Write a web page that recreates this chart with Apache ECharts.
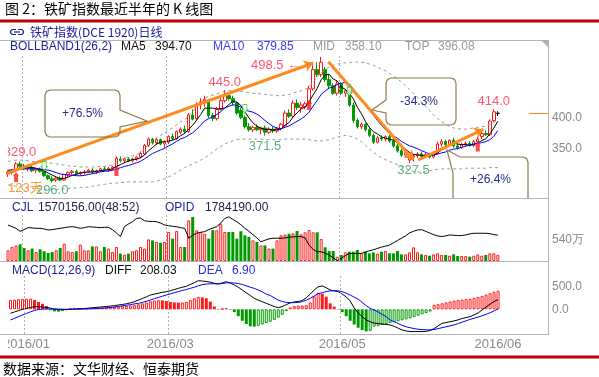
<!DOCTYPE html>
<html>
<head>
<meta charset="utf-8">
<script src="https://cdn.jsdelivr.net/npm/echarts@6/dist/echarts.min.js"></script>
<style>
html, body { margin: 0; padding: 0; background: #fff; }
#main { width: 599px; height: 377px; }
</style>
</head>
<body>
<div id="main"></div>
<script>
// 123 trading days
const opens = [310,312,315,326,322,318,320,316,318,314, 307,302,300,303,300,309,312,314,310,312, 313,316,313,315,318,317,319,321,334,331, 334,331,334,337,342,356,366,360,365,358, 361,370,367,377,382,378,405,399,421,424, 428,404,399,414,428,436,431,424,412,401, 386,381,385,381,384,377,382,379,383,388, 408,403,424,417,418,423,447,478,470,478, 462,452,440,455,440,444,421,396,386,390, 381,372,361,368,366,370,363,355,347,340, 332,337,339,342,338,341,337,344,358,362, 357,364,355,352,357,359,356,362,370,375, 373,396,407.5]
const closes = [313,316,326,322,318,321,315,318,314,307, 302,299,303,300,309,312,314,310,312,313, 316,313,315,318,317,319,321,335,331,334, 331,334,337,343,356,366,360,365,358,361, 370,367,378,382,378,405,398,421,426,430, 404,399,414,428,436,431,425,408,401,386, 381,385,381,384,377,382,379,383,390,408, 403,424,417,421,423,447,478,470,490,462, 452,440,455,440,444,421,396,386,390,381, 372,361,368,366,370,363,355,347,340,344, 337,339,342,338,341,337,344,358,362,357, 364,355,352,357,359,356,362,366,375,373, 395,410,407.5]
const lows = [305,309,313,318,316,314,313,311,312,305, 300,296,297,298,299,305,309,308,307,309, 311,311,310,313,315,313,316,319,328,327, 329,328,331,335,340,353,357,357,356,352, 358,364,365,374,375,376,396,397,414,418, 400,395,396,412,425,428,420,405,398,383, 378,377,379,374,371.5,374,376,376,380,386, 400,400,413,408,414,420,444,466,466,458, 448,437,436,437,434,418,392,383,382,378, 369,358,359,363,362,360,352,344,337,336, 327.5,330,335,336,335,335,335,342,354,355, 355,352,349,350,354,354,353,361,366,371, 371,394,403]
const highs = [316,318,329,330,326,324,323,320,320,316, 309,306,305,306,310,314,316,317,314,316, 318,319,317,320,322,321,323,338,338,336, 337,336,339,346,358,369,368,368,367,364, 372,375,380,385,388,408,414,425,432,436, 430,408,418,432,445,440,436,426,416,404, 392,388,390,386,388,385,386,385,392,412, 414,428,430,426,426,452,485,490,498.5,482, 470,456,460,458,447,448,425,399,393,392, 385,375,371,372,372,373,366,358,350,346, 341,342,345,346,344,344,346,362,366,365, 366,368,359,360,362,363,364,370,378,380, 398,414,411]

const ma5 = [314,315,317,318,319,320.6,320.4,318.8,317.2,315, 311.2,308,305,302.2,302.6,304.6,307.6,309,311.4,312.2, 313,312.8,313.8,315,315.8,316.4,318,322,324.6,328, 330.4,333,333.4,335.8,340.2,347.2,352.4,358,361,362, 362.8,364.2,366.8,371.6,375,382,388.2,396.8,405.6,416, 415.8,416,414.6,415,416.2,421.6,426.8,425.6,420.2,410.2, 400.2,392.2,386.8,383.4,381.6,381.8,380.6,381,382.2,388.4, 392.6,401.6,408.4,414.6,417.6,426.4,437.2,447.8,461.6,469.4, 470.4,462.8,459.8,449.8,446.2,440,431.2,417.4,407.4,394.8, 385,378,374.4,369.6,367.4,365.6,364.4,360.2,355,349.8, 344.6,341.4,340.4,340,339.4,339.4,340.4,343.6,348.4,351.6, 357,359.2,358,357,357.4,355.8,357.2,360,363.6,366.4, 374.2,383.8,394.7]
const ma10 = [316,316,317,317,318,318,318,318,317,317, 315.9,314.2,311.9,309.7,308.8,307.9,307.8,307,306.8,307.4, 308.8,310.2,311.4,313.2,314,314.7,315.4,317.9,319.8,321.9, 323.4,325.5,327.7,330.2,334.1,338.8,342.7,345.7,348.4,351.1, 355,358.3,362.4,366.3,368.5,372.4,376.2,381.8,388.6,395.5, 398.9,402.1,405.7,410.3,416.1,418.7,421.4,420.1,417.6,413.2, 410.9,409.5,406.2,401.8,395.9,391,386.4,383.9,382.8,385, 387.2,391.1,394.7,398.4,403,409.5,419.4,428.1,438.1,443.5, 448.4,450,453.8,455.7,457.8,455.2,447,438.6,428.6,420.5, 412.5,404.6,395.9,388.5,381.1,375.3,371.2,367.3,362.3,358.6, 355.1,352.9,350.4,347.5,344.6,342,340.5,341.6,343.8,345.1, 348.2,349.8,350.8,352.7,354.5,356.4,358.2,359,360.3,361.9, 365,370.5,379.85]
const bollUp = [330,331,332,332,332,331,330,329,328,327, 327,327,326,325,324,323,322,322,321,321, 321,321,321,322,322,323,324,329,332,335, 337,339,341,344,350,357,363,368,372,376, 380,384,389,394,397,405,410,419,426,432, 435,437,439,441,443,444,444,444,443,442, 441,440,439,439,438,437,437,436,436,437, 438,440,442,444,446,450,458,466,473,478, 482,485,487,488,489,489,490,490,490,489, 487,485,482,479,476,472,468,463,458,452, 446,440,433,426,419,412,405,399,394,390, 386,384,383,382,382,383,384,385,386,387, 390,393,396.08]
const bollLow = [292,291,290,289,288,287,287,286,286,285, 285,285,285,285,286,286,287,287,288,288, 289,290,291,292,293,294,295,295,296,296, 297,297,297,297,297,297,297,298,300,302, 305,308,312,316,320,323,326,329,332,336, 340,345,350,354,358,361,363,365,366,366, 366,366,366,366,365,365,365,365,365,366, 366,366,366,366,366,365,364,363,363,364, 365,367,369,371,372,371,369,366,362,356, 350,345,340,336,333,330,327,325,322,319, 316,314,313,313,314,315,316,317,318,318, 318,318,318,318,319,319,319,319,319,319, 320,320,320.1]

// volume and open interest, 万手
const volume = [275,360,400,430,335,275,320,230,300,250, 205,230,275,335,445,250,230,250,420,275, 275,375,375,250,360,320,230,360,190,165, 190,250,275,360,320,555,530,490,470,490, 745,575,770,360,360,1045,1130,790,745,700, 575,790,790,960,745,745,745,575,765,660, 620,530,490,400,400,320,320,530,660,680, 700,711,771,686,737,797,737,737,565,352, 257,257,111,154,223,240,240,283,197,240, 197,223,189,240,257,197,197,257,171,171, 223,351,223,171,154,137,171,197,154,154, 137,171,128,128,128,111,137,171,137,154, 197,197,157]
const openInt = [209,204,199,190,195,201,200,199,199,197, 194,195,197,199,201,203,204,202,199,201, 204,203,202,201,202,202,195,185,174,204, 212,219,229,230,222,220,220,219,215,209, 207,205,204,201,199,169,178,184,187,189, 195,200,204,215,229,234,226,219,210,199, 190,180,170,158,163,167,169,169,169,170, 172,173,174,174,170,148,135,128,128,124, 118,110,101,108,116,123,123,123,123,127, 131,134,138,142,145,148,155,162,169,176, 185,190,194,195,190,185,180,176,174,176, 179,178,177,177,179,182,184,184,184,184, 183,180,178.4]

// MACD(12,26,9)
const diff = [-87,-58,-29,0,20,40,58,55,50,43, 25,5,-5,-8,-3,0,5,10,15,22, 30,38,45,55,62,70,80,94,105,120, 140,166,200,235,270,311,330,350,368,383, 405,430,455,480,500,540,580,622,615,605, 590,565,550,575,600,570,528,480,420,360, 300,239,200,165,130,95,60,36,60,100, 140,160,170,190,250,330,420,490,506,470, 419,400,383,330,270,180,30,-80,-160,-231, -270,-300,-310,-320,-330,-340,-370,-410,-448,-470, -484,-484,-484,-484,-480,-460,-420,-360,-304,-290, -270,-253,-230,-200,-180,-159,-120,-80,-14,50, 110,170,208.03]
const dea = [-231,-195,-160,-123,-90,-55,-25,-5,5,7, 8,6,4,2,0,0,1,3,5,8, 10,13,17,22,30,40,50,62,75,88, 100,118,130,150,175,202,230,258,285,311, 335,360,385,410,430,455,480,510,535,549, 555,555,552,560,575,578,572,560,540,510, 480,455,420,380,330,300,250,200,170,150, 145,145,148,165,200,239,290,340,360,385, 400,405,400,383,350,310,265,220,150,80, 20,-14,-60,-110,-160,-231,-270,-310,-350,-380, -400,-420,-434,-440,-445,-448,-440,-420,-400,-380, -360,-340,-310,-280,-250,-220,-195,-170,-140,-110, -75,-35,6.9]
const macd = [200,210,218,225,230,232,205,160,120,70, -20,-45,-50,-40,-15,10,25,25,20,20, 30,35,40,45,50,55,55,60,70,75, 85,95,110,130,150,175,190,200,195,180, 160,150,145,150,160,200,240,270,260,240, 166,60,-10,10,25,-10,-60,-150,-250,-320, -370,-376,-360,-330,-300,-270,-230,-180,-120,-40, 40,70,80,80,90,150,280,360,340,275, 130,58,-10,-60,-150,-250,-330,-400,-450,-480, -470,-376,-360,-340,-320,-300,-280,-260,-240,-220, -200,-170,-140,-110,-80,-50,94,110,130,150, 170,190,200,210,220,230,250,270,290,320, 350,383,402]

// marked highs / lows
const markIdx = [2, 11, 54, 64, 78, 100, 121]
const markVal = [329.0, 296.0, 445.0, 371.5, 498.5, 327.5, 414.0]

// trading signals
const buyIdx = [2, 27, 75, 117]
const buyVal = [304.8, 314.5, 421, 354]
const sellIdx = [9, 59, 85]
const sellVal = [322.6, 414.5, 442.7]

// trend arrows [index, price]
const trendFrom = [[-0.3, 310.8], [79.8, 490.8], [102.2, 332.3]]
const trendTo = [[76.0, 488.7], [101.0, 332.3], [118.4, 381.7]]

// x axis
const monthLines = [3.5, 39.4, 82.4]
const dateTicks = [4, 40, 83, 122]
const dateLabels = ['2016/01', '2016/03', '2016/05', '2016/06']
const lastPrice = 407.5

;[opens, closes, lows, highs, ma5, ma10, bollUp, bollLow, volume, openInt, diff, dea, macd].forEach((a, k) => {
  if (a.length !== 123) throw new Error('array ' + k + ' has ' + a.length)
})

const SLOTS = 135
const days = []
for (let i = 0; i < SLOTS; i++) days.push(String(i))

const RED = '#ff1a1a'
const GREEN = '#009a00'
const NUM_FONT = 'Liberation Sans'
const CJK_FONT = 'Noto Sans CJK SC'

const kData = opens.map((o, i) => {
  const item = { value: [o, closes[i], lows[i], highs[i]] }
  if (o === closes[i]) item.itemStyle = { color: '#000', color0: '#000', borderColor: '#000', borderColor0: '#000' }
  return item
})

const volData = volume.map((v, i) => {
  const up = closes[i] >= opens[i]
  return {
    value: v,
    itemStyle: up ? { color: '#fff', borderColor: RED, borderWidth: 1 } : { color: GREEN, borderColor: GREEN, borderWidth: 0 }
  }
})

// hollow bar when the histogram rises, solid when it falls
const macdData = macd.map((v, i) => {
  const prev = i > 0 ? macd[i - 1] : v
  const c = v >= 0 ? RED : GREEN
  return {
    value: v,
    itemStyle: v >= prev ? { color: '#fff', borderColor: c, borderWidth: 1 } : { color: c, borderColor: c, borderWidth: 0 }
  }
})

function catAxis(gridIndex, withLabels) {
  return {
    type: 'category', gridIndex, data: days, boundaryGap: true,
    axisLine: { show: false }, axisTick: { show: false }, splitLine: { show: false },
    axisLabel: withLabels ? {
      interval: (idx) => dateTicks.indexOf(idx) >= 0,
      formatter: (val, idx) => dateLabels[dateTicks.indexOf(idx)],
      color: '#8a8a8a', fontFamily: NUM_FONT, fontSize: 13, margin: 4
    } : { show: false }
  }
}
function valAxis(gridIndex) {
  return { type: 'value', gridIndex, min: -0.5, max: SLOTS - 0.5, show: false }
}
function rightAxis(gridIndex, min, max, ticks, fmt) {
  return {
    type: 'value', gridIndex, position: 'right', min, max,
    axisLine: { show: false }, axisTick: { show: false }, splitLine: { show: false },
    axisLabel: ticks ? { customValues: ticks, formatter: fmt, color: '#888', fontFamily: NUM_FONT, fontSize: 12, margin: 4 } : { show: false }
  }
}
function plainLine(name, x, y, data, color, dashed) {
  return {
    name, type: 'line', xAxisIndex: x, yAxisIndex: y, data, symbol: 'none', silent: true,
    lineStyle: { color, width: 1, type: dashed ? [3, 3] : 'solid' }
  }
}
function monthMarks(x, y) {
  return {
    type: 'line', xAxisIndex: x, yAxisIndex: y, data: [], silent: true,
    markLine: {
      silent: true, symbol: 'none', label: { show: false }, animation: false,
      lineStyle: { color: '#b0b0b0', width: 1, type: [2, 2] },
      data: monthLines.map(v => ({ xAxis: v }))
    }
  }
}
function txt(x, y, text, color, size, family) {
  return {
    type: 'text', x, y, z: 20,
    style: { text, fill: color, fontSize: size || 12, fontFamily: family || NUM_FONT, verticalAlign: 'middle', align: 'left' }
  }
}
function hline(x1, x2, y) {
  return { type: 'line', z: 5, shape: { x1, y1: y, x2, y2: y }, style: { stroke: '#b4b4b4', lineWidth: 1 } }
}
function outline(points, color, width) {
  return { type: 'polyline', z: 15, shape: { points }, style: { stroke: color || '#8c7b4a', fill: null, lineWidth: width || 1.2 } }
}

const upArrow = 'path://M3,0 L6,4 L5,4 L5,10 L1,10 L1,4 L0,4 Z'
const downArrow = 'path://M1,0 L5,0 L5,5 L6,5 L3,9 L0,5 L1,5 Z'

const markLabels = markIdx.map((x, k) => {
  const v = markVal[k]
  const isHigh = highs[x] === v
  const lbl = { color: isHigh ? '#ff2a4a' : '#2e9e5e', position: isHigh ? 'top' : 'bottom', distance: 1 }
  if (x === 78) { lbl.position = 'left'; lbl.distance = 21; lbl.offset = [0, 9]; lbl.formatter = v.toFixed(1) + ' \u2190' }
  if (x === 2) { lbl.distance = 3; lbl.offset = [4, 0] }
  if (x === 64) lbl.distance = 4
  if (x === 100) lbl.offset = [4, 0]
  return { value: [x, v], label: lbl }
})

const chart = echarts.init(document.getElementById('main'))

const option = {
  animation: false,
  backgroundColor: '#fff',
  grid: [
    { left: 6, right: 51, top: 54, height: 144 },
    { left: 6, right: 51, top: 214, height: 47 },
    { left: 6, right: 51, top: 276, height: 58 }
  ],
  xAxis: [catAxis(0, false), catAxis(1, false), catAxis(2, true), valAxis(0), valAxis(1), valAxis(2)],
  yAxis: [
    rightAxis(0, 271, 503.2, [350, 400], v => v.toFixed(1)),
    rightAxis(1, 0, 1208, [540], v => v + '万'),
    rightAxis(1, 100, 242.4, null),
    rightAxis(2, -537, 724, [0, 500], v => v.toFixed(1))
  ],
  series: [
    monthMarks(3, 0), monthMarks(4, 1), monthMarks(5, 3),
    plainLine('TOP', 0, 0, bollUp, '#9a9a9a', true),
    plainLine('BOTTOM', 0, 0, bollLow, '#9a9a9a', true),
    {
      name: 'K', type: 'candlestick', xAxisIndex: 0, yAxisIndex: 0, data: kData, barWidth: 3, silent: true,
      itemStyle: { color: '#fff', color0: GREEN, borderColor: RED, borderColor0: GREEN, borderWidth: 1 }
    },
    plainLine('MA5', 0, 0, ma5, '#000'),
    plainLine('MA10', 0, 0, ma10, '#0000ff'),
    { name: 'CJL', type: 'bar', xAxisIndex: 1, yAxisIndex: 1, data: volData, barWidth: 3, silent: true },
    plainLine('OPID', 1, 2, openInt, '#000'),
    { name: 'MACD', type: 'bar', xAxisIndex: 2, yAxisIndex: 3, data: macdData, barWidth: 3, silent: true },
    plainLine('DIFF', 2, 3, diff, '#000'),
    plainLine('DEA', 2, 3, dea, '#0000ff'),
    {
      type: 'line', xAxisIndex: 3, yAxisIndex: 0, data: [], silent: true,
      markLine: {
        silent: true, animation: false, label: { show: false },
        symbol: ['none', 'arrow'], symbolSize: 9,
        lineStyle: { color: '#ff8a1e', width: 3, type: 'solid' },
        data: trendFrom.map((p, k) => [{ coord: p }, { coord: trendTo[k] }]).concat([
          [{ coord: [129.8, lastPrice], symbol: 'none', lineStyle: { width: 1 } }, { coord: [134.5, lastPrice], symbol: 'none' }]
        ])
      }
    },
    {
      type: 'scatter', xAxisIndex: 3, yAxisIndex: 0, silent: true, z: 6,
      symbol: upArrow, symbolSize: [6, 10],
      itemStyle: { color: RED },
      data: buyIdx.map((x, k) => [x, buyVal[k]])
    },
    {
      type: 'scatter', xAxisIndex: 3, yAxisIndex: 0, silent: true, z: 6,
      symbol: downArrow, symbolSize: [6, 9],
      itemStyle: { color: '#fff', borderColor: '#22cc22', borderWidth: 1 },
      data: sellIdx.map((x, k) => [x, sellVal[k]])
    },
    {
      type: 'scatter', xAxisIndex: 3, yAxisIndex: 0, silent: true, z: 7,
      symbolSize: 0,
      label: { show: true, fontFamily: NUM_FONT, fontSize: 13, formatter: p => p.value[1].toFixed(1) },
      data: markLabels
    }
  ],
  graphic: [
    txt(5, 9, '图 2：铁矿指数最近半年的 K 线图', '#000', 14, CJK_FONT),
    { type: 'rect', z: 20, shape: { x: 0, y: 19.5, width: 599, height: 3 }, style: { fill: '#c00000' } },
    outline([[16, 29.5], [12.5, 29.5], [11, 30.5], [10.5, 32], [11, 33.5], [12.5, 34.5], [16, 34.5]], '#1a1a9a', 1.2),
    outline([[18, 29.5], [21.5, 29.5], [23, 30.5], [23.5, 32], [23, 33.5], [21.5, 34.5], [18, 34.5]], '#1a1a9a', 1.2),
    outline([[14, 32], [20, 32]], '#1a1a9a', 1.2),
    txt(30, 32, '铁矿指数(DCE 1920)日线', '#1a1a9a', 12, CJK_FONT),
    hline(0, 548.5, 40.5), hline(0, 548.5, 198.5), hline(0, 548.5, 261.5), hline(0, 548.5, 334.5),
    { type: 'line', z: 5, shape: { x1: 548.5, y1: 40, x2: 548.5, y2: 335 }, style: { stroke: '#b4b4b4', lineWidth: 1 } },
    { type: 'polygon', z: 5, shape: { points: [[541, 40], [549, 40], [549, 48]] }, style: { fill: '#b0b0b0' } },
    txt(10, 47, 'BOLLBAND1(26,2)', '#1e1e96'),
    txt(121, 47, 'MA5', '#111'), txt(155, 47, '394.70', '#111'),
    txt(213, 47, 'MA10', '#3a3aff'), txt(257, 47, '379.85', '#3a3aff'),
    txt(313, 47, 'MID', '#9a9a9a'), txt(345, 47, '358.10', '#9a9a9a'),
    txt(405, 47, 'TOP', '#9a9a9a'), txt(438, 47, '396.08', '#9a9a9a'),
    txt(12, 208, 'CJL', '#1e1e96'), txt(38, 208, '1570156.00(48:52)', '#22224a'),
    txt(165, 208, 'OPID', '#1e1e96'), txt(205, 208, '1784190.00', '#22224a'),
    txt(12, 271, 'MACD(12,26,9)', '#1e1e96'), txt(105, 271, 'DIFF', '#111'), txt(140, 271, '208.03', '#111'),
    txt(198, 271, 'DEA', '#2a2ae0'), txt(232, 271, '6.90', '#2a2ae0'),
    outline([[50, 90], [115, 90], [118.5, 91.5], [120, 95], [120, 110], [147, 121], [120, 127], [120, 132], [118.5, 135.5], [115, 137], [50, 137], [46.5, 135.5], [45, 132], [45, 95], [46.5, 91.5], [50, 90]]),
    txt(62, 114, '+76.5%', '#2b2b8f', 12),
    outline([[391, 78], [451, 78], [454.5, 79.5], [456, 83], [456, 120], [454.5, 123.5], [451, 125], [391, 125], [387.5, 123.5], [386, 120], [386, 113], [372, 110], [386, 100], [386, 83], [387.5, 79.5], [391, 78]]),
    txt(400, 102, '-34.3%', '#2b2b8f', 12),
    outline([[453, 198], [453, 173], [447, 150], [460, 157], [523, 157], [526.5, 158.5], [528, 162], [528, 198]]),
    txt(470, 180, '+26.4%', '#2b2b8f', 12),
    txt(8, 188, '123天', '#ff9933', 13, NUM_FONT + ', ' + CJK_FONT),
    { type: 'rect', z: 100, shape: { x: 0, y: 145, width: 8, height: 14 }, style: { fill: '#fff' } },
    { type: 'rect', z: 100, shape: { x: 0, y: 337, width: 8, height: 15 }, style: { fill: '#fff' } },
    { type: 'rect', z: 20, shape: { x: 0, y: 355.5, width: 599, height: 3 }, style: { fill: '#c00000' } },
    txt(3, 369, '数据来源：文华财经、恒泰期货', '#000', 14, CJK_FONT)
  ]
}

chart.setOption(option)
</script>
</body>
</html>
